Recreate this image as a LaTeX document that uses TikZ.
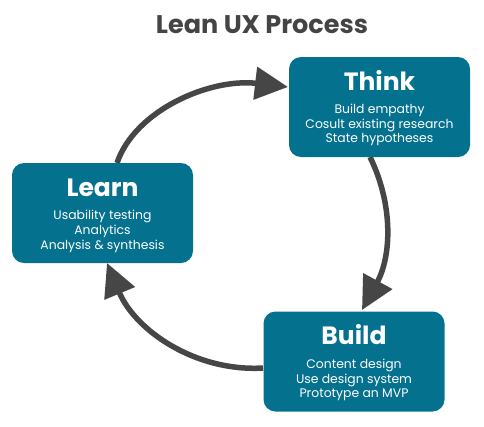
\documentclass[tikz,border=0pt]{standalone}
\usepackage{fontspec}
\setmainfont{Poppins}
\usetikzlibrary{arrows.meta}
\definecolor{boxblue}{HTML}{04718F}
\definecolor{arrowgray}{HTML}{464646}
\definecolor{titlegray}{HTML}{444444}
\begin{document}
\begin{tikzpicture}[x=1pt,y=-1pt,
  stage/.style={fill=boxblue, rounded corners=12pt, minimum width=181pt, minimum height=100pt, inner sep=0pt, draw=none},
  stagetitle/.style={text=white, font=\bfseries\fontsize{25}{25}\selectfont, anchor=base, inner sep=0pt},
  stageline/.style={text=white, font=\fontsize{12.4}{14}\selectfont, anchor=base, inner sep=0pt},
  flow/.style={draw=arrowgray, line width=5.5pt, -{Triangle[length=33pt,width=32pt]}}
]
\useasboundingbox (0,0) rectangle (484,426);
\node[text=titlegray, font=\bfseries\fontsize{25.5}{25.5}\selectfont, anchor=base, inner sep=0pt] (title) at (262,33) {Lean UX Process};

% arrows first (boxes drawn over them)
\coordinate (a1s) at (117,163);
\coordinate (a1e) at (288,87);
\coordinate (a2s) at (370,157);
\coordinate (a2e) at (362,310);
\coordinate (a3s) at (263,368);
\coordinate (a3e) at (107,263);
\draw[flow] (a1s) .. controls (135,110) and (210,78) .. (a1e);
\draw[flow] (a2s) .. controls (394,206) and (391,257) .. (a2e);
\draw[flow] (a3s) .. controls (195,372) and (135,330) .. (a3e);

\node[stage] (think) at (379.5,107) {};
\node[stage] (learn) at (102.5,213) {};
\node[stage] (build) at (354,361.5) {};

\node[stagetitle] (thinkT) at ([yshift=-34pt]think.north) {Think};
\node[stageline] (think1) at ([yshift=-57pt]think.north) {Build empathy};
\node[stageline] (think2) at ([yshift=-72pt]think.north) {Cosult existing research};
\node[stageline] (think3) at ([yshift=-86pt]think.north) {State hypotheses};

\node[stagetitle] (learnT) at ([yshift=-34pt]learn.north) {Learn};
\node[stageline] (learn1) at ([yshift=-57pt]learn.north) {Usability testing};
\node[stageline] (learn2) at ([yshift=-72pt]learn.north) {Analytics};
\node[stageline] (learn3) at ([yshift=-87pt]learn.north) {Analysis \& synthesis};

\node[stagetitle] (buildT) at ([yshift=-33pt]build.north) {Build};
\node[stageline] (build1) at ([yshift=-57pt]build.north) {Content design};
\node[stageline] (build2) at ([yshift=-72pt]build.north) {Use design system};
\node[stageline] (build3) at ([yshift=-86pt]build.north) {Prototype an MVP};
\end{tikzpicture}
\end{document}
